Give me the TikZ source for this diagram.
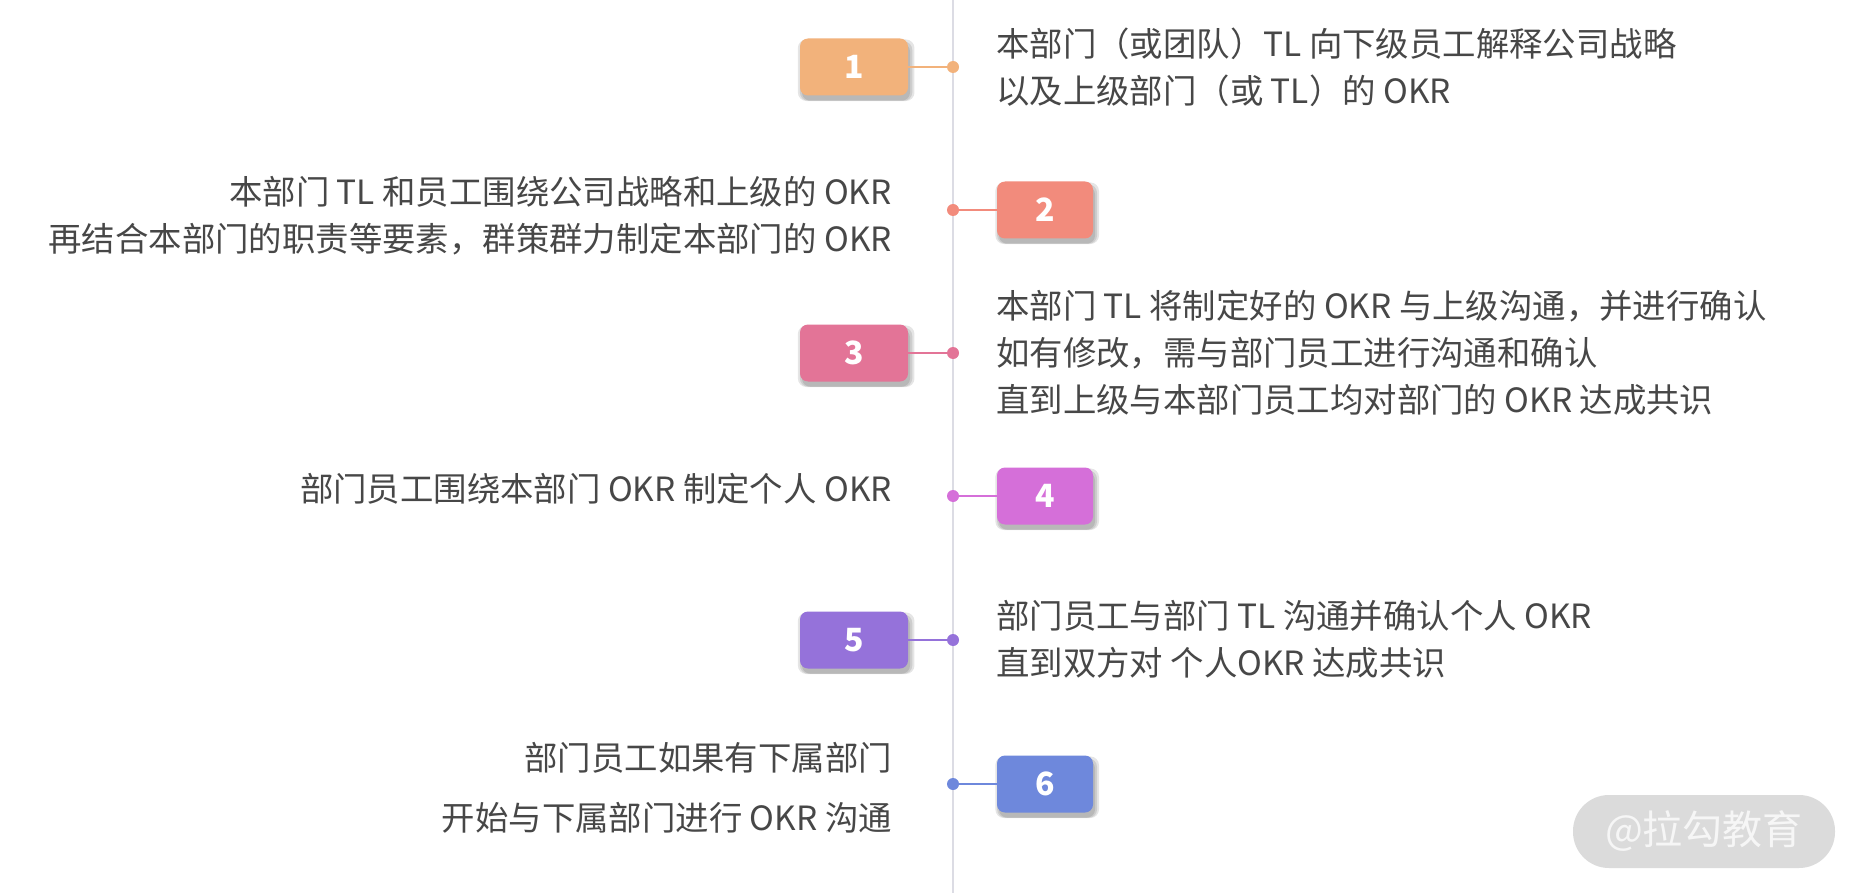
\documentclass[tikz,border=0pt]{standalone}
\usepackage{fontspec}
\setmainfont{Noto Sans CJK SC}
\usetikzlibrary{shadows}
\definecolor{c1}{HTML}{F2B27B}
\definecolor{c2}{HTML}{F28B7C}
\definecolor{c3}{HTML}{E37497}
\definecolor{c4}{HTML}{D56FD9}
\definecolor{c5}{HTML}{9572DA}
\definecolor{c6}{HTML}{6E88DC}
\definecolor{txt}{HTML}{474747}
\definecolor{axis}{HTML}{DCDCE4}
\definecolor{wmfill}{HTML}{DBDBDB}
\definecolor{wmtext}{HTML}{F6F6F6}
\begin{document}
\begin{tikzpicture}[x=1pt,y=-1pt,
  softshadow/.style={
    drop shadow={shadow xshift=2pt, shadow yshift=-3pt, opacity=0.10, fill=black, shadow scale=1.08},
    drop shadow={shadow xshift=2pt, shadow yshift=-4pt, opacity=0.10, fill=black, shadow scale=1.04},
    drop shadow={shadow xshift=2pt, shadow yshift=-5pt, opacity=0.10, fill=black, shadow scale=1.0}},
  numbox/.style={rounded corners=8pt, minimum height=57pt, inner sep=0pt,
    text=white, font=\fontsize{32}{32}\selectfont\bfseries, softshadow},
  leftbox/.style={numbox, minimum width=108pt},
  rightbox/.style={numbox, minimum width=96pt},
  dotnode/.style={circle, inner sep=0pt, minimum size=12pt},
  conn/.style={line width=1.5pt},
  desc/.style={inner sep=0pt, text=txt, font=\fontsize{33.4}{47}\selectfont},
  descl/.style={desc, anchor=east, align=right},
  descr/.style={desc, anchor=west, align=left},
  wm/.style={rounded corners=36pt, minimum width=262pt, minimum height=73pt,
    inner sep=0pt, fill=wmfill, text=wmtext, font=\fontsize{40}{40}\selectfont}
]
\useasboundingbox (0,0) rectangle (1860,893);
\fill[white] (0,0) rectangle (1860,893);
\coordinate (top) at (953,0);
\coordinate (bot) at (953,893);
\draw[axis, line width=2pt] (top) -- (bot);

% dots
\node[dotnode, fill=c1] (d1) at (953,67) {};
\node[dotnode, fill=c2] (d2) at (953,210) {};
\node[dotnode, fill=c3] (d3) at (953,353) {};
\node[dotnode, fill=c4] (d4) at (953,496) {};
\node[dotnode, fill=c5] (d5) at (953,640) {};
\node[dotnode, fill=c6] (d6) at (953,784) {};

% boxes
\node[leftbox, fill=c1] (b1) at (854,67) {1};
\node[rightbox, fill=c2] (b2) at (1045,210) {2};
\node[leftbox, fill=c3] (b3) at (854,353) {3};
\node[rightbox, fill=c4] (b4) at (1045,496) {4};
\node[leftbox, fill=c5] (b5) at (854,640) {5};
\node[rightbox, fill=c6] (b6) at (1045,784) {6};

% connectors
\draw[conn, c1] (b1.east) -- (d1);
\draw[conn, c2] (b2.west) -- (d2);
\draw[conn, c3] (b3.east) -- (d3);
\draw[conn, c4] (b4.west) -- (d4);
\draw[conn, c5] (b5.east) -- (d5);
\draw[conn, c6] (b6.west) -- (d6);

% texts
\node[descr] (t1) at (996,67) {本部门（或团队）TL 向下级员工解释公司战略\\以及上级部门（或 TL）的 OKR};
\node[descl] (t2) at (892,216) {本部门 TL 和员工围绕公司战略和上级的 OKR\\再结合本部门的职责等要素，群策群力制定本部门的 OKR};
\node[descr] (t3) at (996,353) {本部门 TL 将制定好的 OKR 与上级沟通，并进行确认\\如有修改，需与部门员工进行沟通和确认\\直到上级与本部门员工均对部门的 OKR 达成共识};
\node[descl] (t4) at (892,489) {部门员工围绕本部门 OKR 制定个人 OKR};
\node[descr] (t5) at (996,639) {部门员工与部门 TL 沟通并确认个人 OKR\\直到双方对 个人OKR 达成共识};
\node[descl, font=\fontsize{33.4}{60}\selectfont] (t6) at (892,788) {部门员工如果有下属部门\\开始与下属部门进行 OKR 沟通};

% watermark
\node[wm] (wmark) at (1704,831.5) {@拉勾教育};
\end{tikzpicture}
\end{document}
